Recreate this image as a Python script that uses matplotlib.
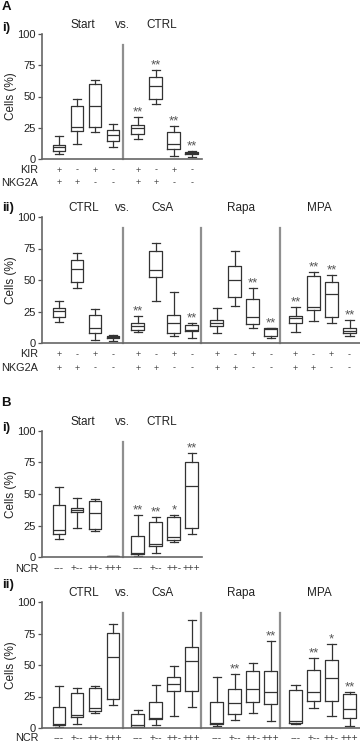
import matplotlib
matplotlib.use("Agg")
import matplotlib.pyplot as plt
from matplotlib.transforms import blended_transform_factory

plt.rcParams['font.family'] = ['Liberation Sans', 'DejaVu Sans']

# ---- data: five-number summaries [whisker low, q1, median, q3, whisker high] ----
A_START = [[4.2, 6.1, 9.8, 11.4, 18.6],
           [11.7, 22.8, 25.7, 42.4, 48.0],
           [21.5, 25.7, 42.4, 60.2, 63.4],
           [9.3, 14.3, 19.6, 23.6, 28.4]]
A_CTRL = [[16.4, 20.4, 25.2, 27.6, 33.7],
          [43.8, 48.3, 58.4, 66.0, 71.4],
          [2.7, 8.2, 11.9, 22.0, 26.8],
          [1.9, 3.7, 4.5, 5.3, 6.1]]
A_CSA = [[9.0, 10.3, 13.8, 15.9, 21.4],
         [33.1, 52.1, 58.2, 73.0, 79.6],
         [5.8, 7.7, 16.1, 22.2, 40.7],
         [4.2, 9.3, 10.1, 14.6, 15.9]]
A_RAPA = [[8.2, 13.5, 15.9, 18.5, 28.0],
          [29.6, 36.2, 49.7, 61.4, 72.8],
          [12.2, 15.3, 20.4, 34.9, 43.4],
          [4.2, 5.8, 11.2, 11.6, 12.0]]
A_MPA = [[9.0, 15.9, 20.1, 21.7, 28.3],
         [17.7, 26.5, 28.5, 53.2, 56.1],
         [15.9, 20.9, 38.6, 48.4, 53.7],
         [5.8, 7.7, 9.5, 11.6, 18.0]]

B_START = [[14.6, 18.1, 21.3, 41.5, 55.3],
           [23.3, 35.5, 37.5, 38.6, 47.0],
           [20.9, 22.5, 35.0, 44.2, 46.0],
           [0.2, 0.3, 0.4, 0.5, 0.6]]
B_CTRL = [[0.8, 2.1, 2.9, 17.0, 33.2],
          [3.2, 8.8, 10.6, 27.4, 31.9],
          [12.2, 13.3, 16.0, 31.9, 33.0],
          [18.1, 23.1, 56.6, 75.5, 82.4]]
B_CSA = [[0.5, 1.1, 2.1, 11.2, 14.4],
         [2.4, 7.2, 8.2, 21.0, 34.0],
         [9.6, 29.0, 34.6, 40.2, 48.9],
         [17.0, 29.0, 53.5, 64.6, 85.6]]
B_RAPA = [[1.9, 3.5, 3.7, 20.7, 40.4],
          [6.1, 10.9, 19.9, 30.9, 42.6],
          [12.2, 20.5, 30.9, 45.5, 51.9],
          [5.3, 18.9, 28.5, 45.5, 69.4]]
B_MPA = [[3.2, 4.0, 5.9, 29.8, 34.3],
         [16.0, 21.3, 28.2, 46.0, 55.3],
         [9.6, 21.8, 39.4, 54.3, 67.0],
         [1.3, 8.0, 14.9, 26.9, 28.7]]

# significance marks per box
SIG_NONE = ["", "", "", ""]
SIG_A_CTRL = ["**", "**", "**", "**"]
SIG_A_CSA = ["**", "", "", "**"]
SIG_A_RAPA = ["", "", "**", "**"]
SIG_A_MPA = ["**", "**", "**", "**"]
SIG_B_CTRL = ["**", "**", "*", "**"]
SIG_B_RAPA = ["", "**", "", "**"]
SIG_B_MPA = ["", "**", "*", "**"]

KIR = ["+", "-", "+", "-"]
NKG2A = ["+", "+", "-", "-"]
NCR = ["---", "+--", "++-", "+++"]

TITLES_I = ["Start", "CTRL"]
TITLES_II = ["CTRL", "CsA", "Rapa", "MPA"]
YTICKS = [0, 25, 50, 75, 100]

# ---- layout ----
W, H = 360, 743
fig = plt.figure(figsize=(W / 100, H / 100), dpi=100)

def fx(px):
    return px / W

def fy(py):
    return 1 - py / H

GAP = 4.38
LINE = '#333333'
SEP = '#8f8f8f'

def make_panel(top, bottom, right, groups, sigs, titles, rows, row_labels, row_ys):
    ax = fig.add_axes([fx(42), fy(bottom), fx(right) - fx(42), fy(top) - fy(bottom)])
    ng = len(groups)
    for g, (grp, sg) in enumerate(zip(groups, sigs)):
        stats = []
        pos = []
        for i, s in enumerate(grp):
            stats.append(dict(whislo=s[0], q1=s[1], med=s[2], q3=s[3], whishi=s[4], fliers=[]))
            pos.append(g * GAP + i)
        ax.bxp(stats, positions=pos, widths=0.72, capwidths=0.45, showfliers=False,
               boxprops=dict(color=LINE, lw=0.9), whiskerprops=dict(color=LINE, lw=0.9),
               capprops=dict(color=LINE, lw=0.9), medianprops=dict(color=LINE, lw=0.9),
               manage_ticks=False)
        for i, s in enumerate(grp):
            if sg[i]:
                ax.text(g * GAP + i, s[4] + 1.2, sg[i], ha='center', va='baseline',
                        fontsize=9.5, color='#555555')
        if g > 0:
            ax.plot([g * GAP - 0.85] * 2, [0, 91], color=SEP, lw=1.6, clip_on=False)
    ax.set_xlim(-0.944, (right - 59) / 18)
    ax.set_ylim(0, 100)
    ax.set_yticks(YTICKS)
    ax.set_xticks([])
    ax.tick_params(axis='y', labelsize=8, length=3, width=0.9, color='#555555',
                   labelcolor='#222222', pad=1.5)
    for sp in ['top', 'right']:
        ax.spines[sp].set_visible(False)
    for sp in ['left', 'bottom']:
        ax.spines[sp].set_color('#666666')
        ax.spines[sp].set_linewidth(1.2)
    ax.set_ylabel('Cells (%)', fontsize=8.5, color='#222222')
    ax.yaxis.set_label_coords((17 - 42) / (right - 42), 0.5)
    # titles
    ty = fy(top - 9)
    tr = blended_transform_factory(ax.transData, fig.transFigure)
    for g, t in enumerate(titles):
        ax.text(g * GAP + 1.5 - 0.15, ty, t, transform=tr, ha='center', va='center',
                fontsize=8.5, color='#222222')
    ax.text(GAP - 0.85, ty, 'vs.', transform=tr, ha='center', va='center',
            fontsize=8.5, color='#222222')
    # row labels
    for lab, vals, ry in zip(row_labels, rows, row_ys):
        fig.text(fx(38.5), fy(ry), lab, ha='right', va='center', fontsize=7.8, color='#222222')
        for g in range(ng):
            for i, v in enumerate(vals):
                ax.text(g * GAP + i, fy(ry), v, transform=tr, ha='center', va='center',
                        fontsize=7.2 if len(v) > 1 else 6.5, color='#444444')
    return ax

make_panel(34, 159, 202, [A_START, A_CTRL], [SIG_NONE, SIG_A_CTRL], TITLES_I,
           [KIR, NKG2A], ['KIR', 'NKG2A'], [170, 183])
make_panel(217, 343, 360, [A_CTRL, A_CSA, A_RAPA, A_MPA],
           [SIG_NONE, SIG_A_CSA, SIG_A_RAPA, SIG_A_MPA], TITLES_II,
           [KIR, NKG2A], ['KIR', 'NKG2A'], [354.5, 368])
make_panel(431, 557, 202, [B_START, B_CTRL], [SIG_NONE, SIG_B_CTRL], TITLES_I,
           [NCR], ['NCR'], [568.5])
make_panel(602, 728, 360, [B_CTRL, B_CSA, B_RAPA, B_MPA],
           [SIG_NONE, SIG_NONE, SIG_B_RAPA, SIG_B_MPA], TITLES_II,
           [NCR], ['NCR'], [738])

# panel letters
for txt, x, y in [('A', 6, 7), ('i)', 6.5, 28), ('ii)', 8, 208),
                  ('B', 6, 403), ('i)', 6.5, 428), ('ii)', 8, 585)]:
    fig.text(fx(x), fy(y), txt, ha='center', va='center', fontsize=9.5, fontweight='bold',
             color='#111111')

fig.savefig('out.png', dpi=100)
